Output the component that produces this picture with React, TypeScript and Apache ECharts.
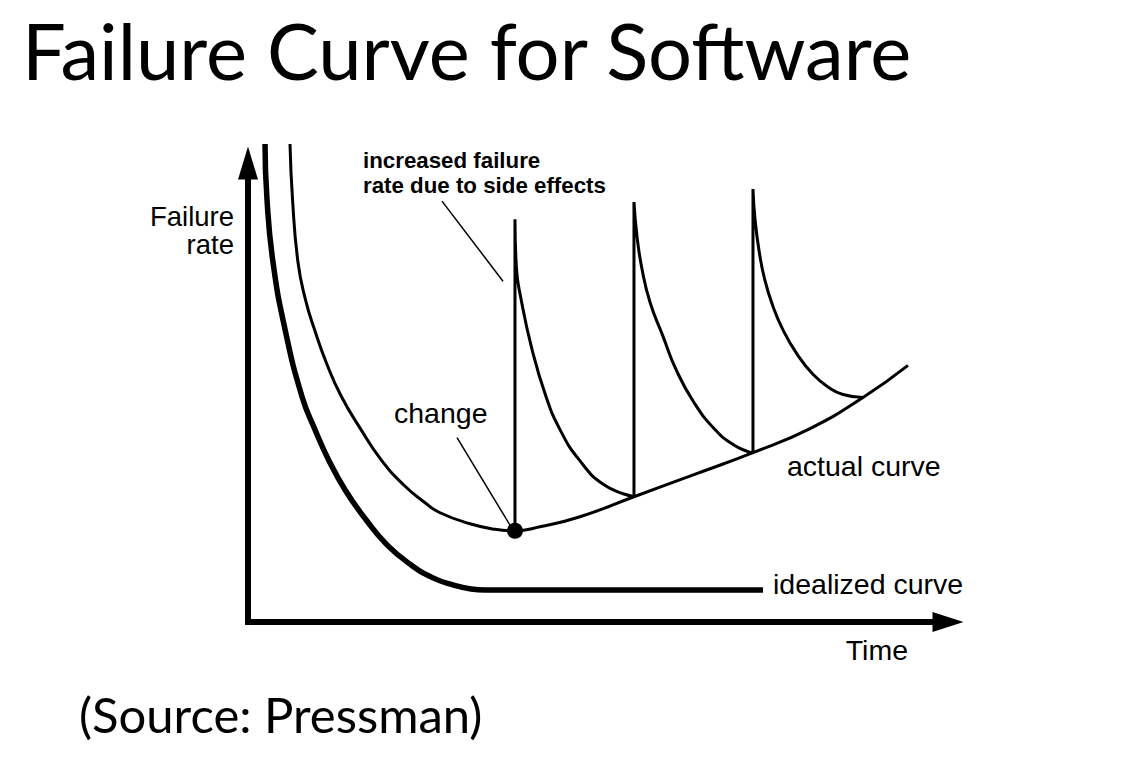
import React, { useEffect, useRef } from "react";
import * as echarts from "echarts";

// Idealized curve (time, failure rate) on a 0–100 scale
const idealTime = [2.43, 2.71, 3.57, 5.29, 7.71, 9.57, 11.5, 13.86, 16.86, 19.86, 23.29, 26.43, 29.29, 31.86, 33.86, 73.57];
const idealRate = [104.15, 92.14, 78.38, 63.76, 49.13, 41.92, 35.37, 28.82, 22.27, 16.81, 12.45, 9.61, 8.08, 7.21, 6.99, 6.99];

// Actual curve
const actualTime = [6.0, 6.36, 7.14, 8.2, 9.49, 11.29, 13.34, 16.14, 19.0, 22.21, 25.29, 27.43, 31.71, 35.29, 38.14, 41.71, 47.43, 55.14, 63.71, 72.14, 80.29, 87.86, 94.29];
const actualRate = [104.15, 92.14, 78.38, 70.31, 63.76, 56.11, 49.13, 41.92, 35.37, 29.91, 25.98, 23.8, 21.4, 20.2, 19.87, 20.74, 22.93, 27.29, 32.1, 36.9, 42.14, 48.91, 55.9];

// Spikes caused by changes (side effects)
const spike1Time = [38.14, 38.14, 38.36, 38.93, 40.57, 42.57, 44.57, 47.29, 50.86, 55.14];
const spike1Rate = [19.87, 87.77, 76.86, 70.96, 59.39, 49.13, 41.92, 35.37, 29.91, 27.29];
const spike2Time = [55.14, 55.14, 55.57, 56.29, 57.43, 59.29, 61.14, 63.71, 66.71, 69.29, 71.43, 72.14];
const spike2Rate = [27.29, 91.48, 84.06, 76.86, 69.65, 62.23, 55.02, 47.82, 41.92, 38.65, 37.12, 36.9];
const spike3Time = [72.14, 72.14, 72.43, 73.04, 73.81, 74.89, 76.39, 78.46, 80.74, 82.97, 85.0, 87.86];
const spike3Rate = [36.9, 94.32, 87.77, 80.57, 74.67, 69.21, 63.76, 58.3, 53.93, 51.09, 49.56, 48.91];

// Change point
const changeTime = [38.14];
const changeRate = [19.87];

// Annotation leader lines
const sideLeaderTime = [27.71, 36.43];
const sideLeaderRate = [91.7, 74.24];
const changeLeaderTime = [29.86, 37.57];
const changeLeaderRate = [40.17, 20.74];

// Texts
const titleText = "Failure Curve for Software";
const sourceText = "(Source: Pressman)";
const yName = "Failure\nrate";
const xName = "Time";
const sideEffectText = "increased failure\nrate due to side effects";
const changeLabel = "change";
const actualLabel = "actual curve";
const idealLabel = "idealized curve";

const zip = (xs: number[], ys: number[]) => xs.map((x, i) => [x, ys[i]]);

const SANS = "'Liberation Sans', Arial, Helvetica, sans-serif";

const lineSeries = (name: string, data: number[][], width: number, smooth: number | boolean) => ({
  name,
  type: "line",
  data,
  smooth,
  symbol: "none",
  showSymbol: false,
  clip: false,
  silent: true,
  lineStyle: { color: "#000", width },
  z: 3,
});

const txt = (
  text: string,
  x: number,
  y: number,
  size: number,
  family: string,
  align: string,
  weight = "normal",
  lineHeight?: number
) => ({
  type: "text",
  x,
  y,
  silent: true,
  z: 100,
  style: {
    text,
    fill: "#000",
    fontSize: size,
    fontFamily: family,
    fontWeight: weight,
    lineHeight: lineHeight ?? Math.round(size * 1.2),
    align,
    textAlign: align,
    verticalAlign: "middle",
    textVerticalAlign: "middle",
  },
});

export default function App() {
  const ref = useRef<HTMLDivElement>(null);

  useEffect(() => {
    if (!ref.current) return;
    const chart = echarts.init(ref.current, null, { renderer: "svg" });
    const axisCommon = {
      type: "value",
      min: 0,
      max: 100,
      axisTick: { show: false },
      axisLabel: { show: false },
      splitLine: { show: false },
    };
    chart.setOption({
      animation: false,
      backgroundColor: "#fff",
      grid: { left: 248, right: 178, top: 163, bottom: 144 },
      xAxis: {
        ...axisCommon,
        axisLine: {
          show: true,
          onZero: false,
          symbol: ["none", "triangle"],
          symbolSize: [20, 31],
          lineStyle: { color: "#000", width: 6, cap: "square" },
        },
      },
      yAxis: {
        ...axisCommon,
        axisLine: {
          show: true,
          onZero: false,
          symbol: ["none", "triangle"],
          symbolSize: [20, 33],
          lineStyle: { color: "#000", width: 6, cap: "square" },
        },
      },
      series: [
        lineSeries("idealized curve", zip(idealTime, idealRate), 5.5, 0.5),
        lineSeries("actual curve", zip(actualTime, actualRate), 3, 0.5),
        lineSeries("spike 1", zip(spike1Time, spike1Rate), 3, 0.5),
        lineSeries("spike 2", zip(spike2Time, spike2Rate), 3, 0.5),
        lineSeries("spike 3", zip(spike3Time, spike3Rate), 3, 0.5),
        lineSeries("side effect leader", zip(sideLeaderTime, sideLeaderRate), 1.5, false),
        lineSeries("change leader", zip(changeLeaderTime, changeLeaderRate), 1.5, false),
        {
          name: "change",
          type: "scatter",
          data: zip(changeTime, changeRate),
          symbol: "circle",
          symbolSize: 16,
          itemStyle: { color: "#000", opacity: 1 },
          silent: true,
          z: 5,
        },
      ],
      graphic: [
        txt(titleText, 22, 50, 77.7, "Lato", "left"),
        txt(sourceText, 79, 714, 49, "Lato", "left"),
        txt(yName, 234, 230, 27.5, SANS, "right", "normal", 28),
        txt(xName, 908, 650, 28.5, SANS, "right"),
        txt(sideEffectText, 363, 173, 22.3, SANS, "left", "bold", 25),
        txt(changeLabel, 394, 413, 28.5, SANS, "left"),
        txt(actualLabel, 787, 466, 28.5, SANS, "left"),
        txt(idealLabel, 773, 584, 28.5, SANS, "left"),
      ],
    });
    return () => chart.dispose();
  }, []);

  return (
    <div
      ref={ref}
      style={{ position: "fixed", left: 0, top: 0, width: 1126, height: 766, background: "#fff" }}
    />
  );
}
